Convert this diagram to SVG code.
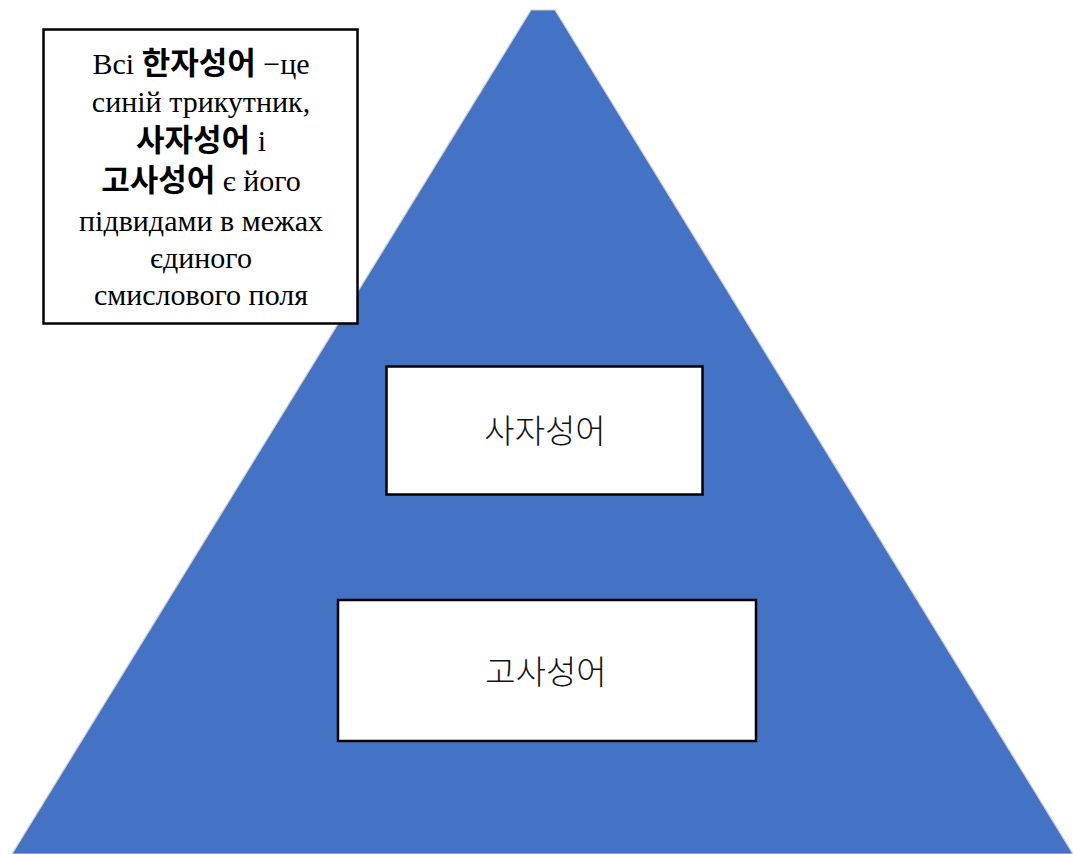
<svg xmlns="http://www.w3.org/2000/svg" width="1073" height="854" viewBox="0 0 1073 854">
<rect width="1073" height="854" fill="#ffffff"/>
<g id="triangle">
<polygon points="531,10 555,10 1073,854 12,854" fill="#4472C4" stroke="#cfcfcf" stroke-width="1.2"/>
</g>
<g id="note">
<rect x="43.5" y="29.5" width="314" height="294" fill="#ffffff" stroke="#000000" stroke-width="2.5"/>
<text x="201" y="74" font-size="30" text-anchor="middle"><tspan font-family="Liberation Serif">Всі </tspan><tspan font-family="Noto Sans CJK KR" font-weight="700" font-size="31">한자성어</tspan><tspan font-family="Liberation Serif"> −це</tspan></text>
<text x="201" y="112" font-family="Liberation Serif" font-size="30" text-anchor="middle">синій трикутник,</text>
<text x="201" y="151" font-size="30" text-anchor="middle"><tspan font-family="Noto Sans CJK KR" font-weight="700" font-size="31">사자성어</tspan><tspan font-family="Liberation Serif"> і</tspan></text>
<text x="201" y="191" font-size="30" text-anchor="middle"><tspan font-family="Noto Sans CJK KR" font-weight="700" font-size="31">고사성어</tspan><tspan font-family="Liberation Serif"> є його</tspan></text>
<text x="201" y="231" font-family="Liberation Serif" font-size="30" text-anchor="middle">підвидами в межах</text>
<text x="201" y="268" font-family="Liberation Serif" font-size="30" text-anchor="middle">єдиного</text>
<text x="201" y="305" font-family="Liberation Serif" font-size="30" text-anchor="middle">смислового поля</text>
</g>
<g id="sajaseongeo">
<rect x="386.5" y="366.5" width="316" height="128" fill="#ffffff" stroke="#000000" stroke-width="2.5"/>
<text font-family="Noto Sans CJK KR" font-weight="300" font-size="33" fill="#111" x="545" y="443" text-anchor="middle">사자성어</text>
</g>
<g id="gosaseongeo">
<rect x="338" y="600" width="418" height="141" fill="#ffffff" stroke="#000000" stroke-width="2.5"/>
<text font-family="Noto Sans CJK KR" font-weight="300" font-size="33" fill="#111" x="546" y="684" text-anchor="middle">고사성어</text>
</g>
<g id="connectors"></g>
</svg>
